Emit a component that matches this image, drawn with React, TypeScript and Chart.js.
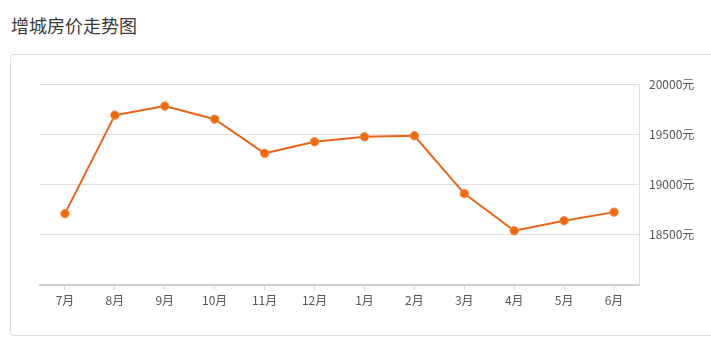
import React, { useEffect, useRef } from "react";
import { Chart, registerables } from "chart.js";

Chart.register(...registerables);

const TITLE = "增城房价走势图";
const MONTHS = ["7月", "8月", "9月", "10月", "11月", "12月", "1月", "2月", "3月", "4月", "5月", "6月"];
const PRICES = [18710, 19690, 19780, 19650, 19310, 19425, 19475, 19485, 18910, 18540, 18640, 18725];
const Y_MIN = 18000;
const Y_MAX = 20000;
const Y_STEP = 500;
const UNIT = "元";

const FONT = "'Noto Sans CJK SC', 'Noto Sans', sans-serif";

export default function App() {
  const ref = useRef<HTMLCanvasElement | null>(null);

  useEffect(() => {
    document.body.style.margin = "0";
    const canvas = ref.current!;
    const chart = new Chart(canvas, {
      type: "line",
      data: {
        labels: MONTHS,
        datasets: [
          {
            data: PRICES,
            borderColor: "#e5661a",
            borderWidth: 2,
            backgroundColor: "#ee6a12",
            pointBackgroundColor: "#ee6a12",
            pointBorderColor: "#f58a45",
            pointBorderWidth: 1,
            pointRadius: 4.2,
            tension: 0,
            fill: false,
          },
        ],
      },
      options: {
        animation: false,
        responsive: false,
        maintainAspectRatio: false,
        layout: { padding: { left: 40, top: 84, right: 0, bottom: 0 } },
        plugins: { legend: { display: false }, title: { display: false }, tooltip: { enabled: false } },
        scales: {
          x: {
            offset: true,
            grid: {
              offset: false,
              drawOnChartArea: false,
              drawTicks: true,
              tickLength: 5,
              color: "#d8d8d8",
            },
            border: { display: true, color: "#cfcfcf", width: 2 },
            ticks: {
              color: "#555",
              font: { family: FONT, size: 12 },
              padding: 3,
              maxRotation: 0,
              autoSkip: false,
            },
            afterFit: (s: any) => {
              s.height = 352 - 285;
            },
          },
          y: {
            position: "right",
            min: Y_MIN,
            max: Y_MAX,
            grid: { color: "#dedede", drawTicks: false, lineWidth: 1 },
            border: { display: true, color: "#dcdcdc", width: 1 },
            ticks: {
              stepSize: Y_STEP,
              color: "#555",
              font: { family: FONT, size: 12 },
              padding: 10,
              callback: (v: any) => (Number(v) === Y_MIN ? "" : v + UNIT),
            },
            afterFit: (s: any) => {
              s.width = 711 - 639;
            },
          },
        },
      },
    });
    return () => chart.destroy();
  }, []);

  return (
    <div style={{ position: "relative", width: 711, height: 352, background: "#fff", overflow: "hidden" }}>
      <div
        style={{
          position: "absolute",
          left: 11,
          top: 13,
          fontFamily: FONT,
          fontSize: 18,
          color: "#3a3a3a",
          lineHeight: "24px",
        }}
      >
        {TITLE}
      </div>
      <div
        style={{
          position: "absolute",
          left: 10,
          top: 54,
          width: 720,
          height: 282,
          border: "1px solid #dcdcdc",
          borderRadius: 4,
          boxSizing: "border-box",
        }}
      />
      <canvas ref={ref} width={711} height={352} style={{ position: "absolute", left: 0, top: 0 }} />
    </div>
  );
}
